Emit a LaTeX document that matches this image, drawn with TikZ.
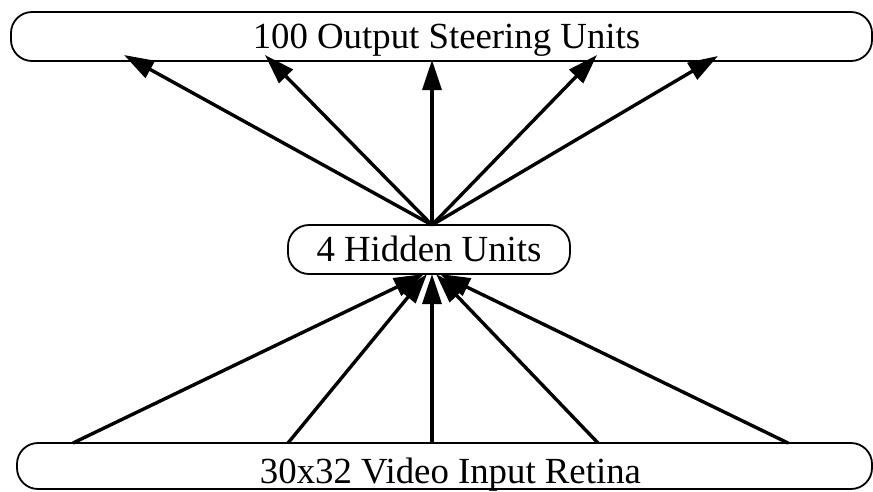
\documentclass[tikz,border=0pt]{standalone}
\usepackage{fontspec}
\setmainfont{Liberation Serif}
\usetikzlibrary{arrows.meta}
\begin{document}
\begin{tikzpicture}[x=1pt,y=-1pt,
  layerbox/.style={draw=black,line width=1.8pt,rounded corners=21pt,inner sep=0pt,
    font=\fontsize{36.8}{40}\selectfont,minimum height=49pt},
  conn/.style={line width=3.4pt,-{Triangle[length=30pt,width=19pt]}}]
\useasboundingbox (0,0) rectangle (873,491);
\node[layerbox,minimum width=861pt,text height=26pt,text depth=3pt] (outp) at (441.5,36.5) {\hspace*{10pt}100 Output Steering Units};
\node[layerbox,minimum width=282pt,text height=26pt,text depth=3pt] (hid) at (429,249.5) {4 Hidden Units};
\node[layerbox,minimum width=855pt,minimum height=46pt,text height=36pt,text depth=2pt] (inp) at (444.5,466) {\hspace*{12pt}30x32 Video Input Retina};
% target points on the output layer
\coordinate (o1) at (124,55);
\coordinate (o2) at (265,55);
\coordinate (o3) at (432,60);
\coordinate (o4) at (597,55);
\coordinate (o5) at (718,56);
% source points on the input layer
\coordinate (i1) at (73,443);
\coordinate (i2) at (288,443);
\coordinate (i3) at (432,443);
\coordinate (i4) at (598,443);
\coordinate (i5) at (788,443);
% tips at the hidden layer
\coordinate (h1) at (424,274);
\coordinate (h2) at (427,274);
\coordinate (h3) at (432,274);
\coordinate (h4) at (436,274);
\coordinate (h5) at (440,274);
\coordinate (ht) at (432,225);
\foreach \k in {1,...,5}{
  \draw[conn] (ht) -- (o\k);
  \draw[conn] (i\k) -- (h\k);
}
\end{tikzpicture}
\end{document}
